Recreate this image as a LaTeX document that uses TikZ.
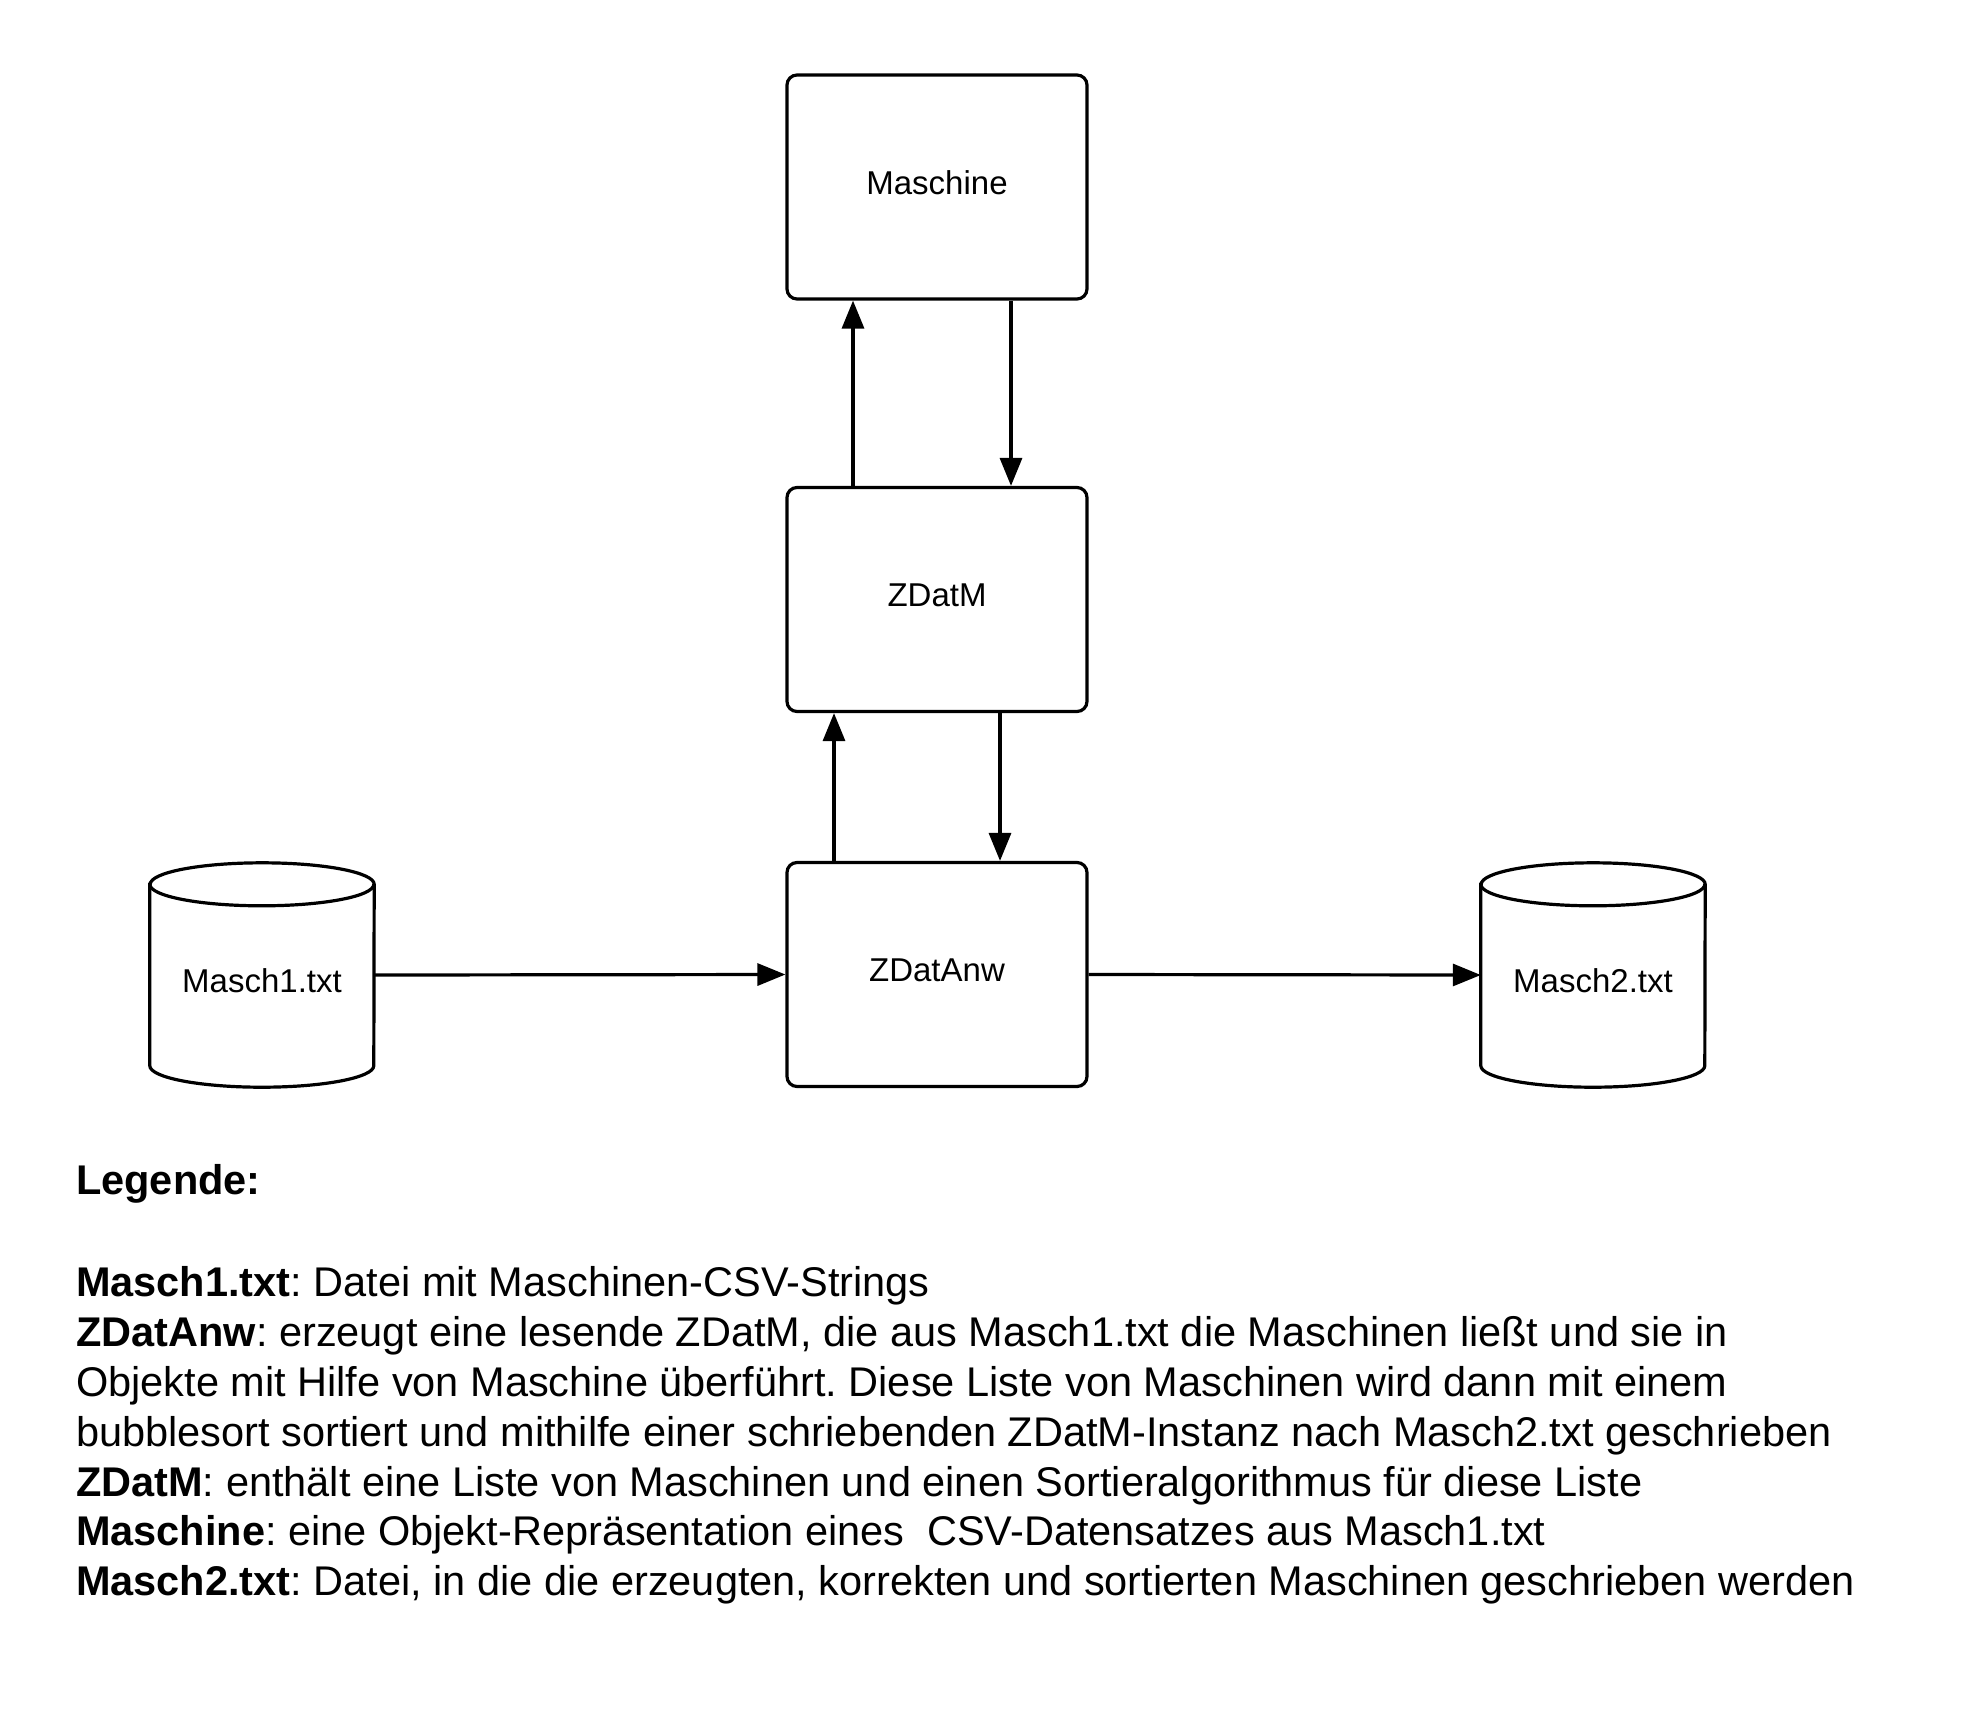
\documentclass[tikz,border=0pt]{standalone}
\usepackage{fontspec}
\setmainfont{Liberation Sans}
\usetikzlibrary{arrows.meta}
\frenchspacing
\begin{document}
\begin{tikzpicture}[x=1pt,y=-1pt,
  box/.style={draw,line width=3.2pt,rounded corners=10pt,minimum width=300pt,minimum height=224pt,inner sep=0pt,font=\fontsize{33}{40}\selectfont},
  dbnode/.style={minimum width=224pt,minimum height=224pt,inner sep=0pt},
  dblabel/.style={inner sep=0pt,font=\fontsize{33}{40}\selectfont},
  conn/.style={line width=3.2pt,-{Triangle[length=28pt,width=22pt]}},
  leg/.style={anchor=base west,inner sep=0pt,font=\fontsize{41.5}{50}\selectfont}]
\useasboundingbox (0,0) rectangle (1988,1727);
% boxes
\node[box] (masch) at (937,187) {};
\node[dblabel] (maschL) at (937,183) {Maschine};
\node[box] (zdatm) at (937,599.5) {};
\node[dblabel] (zdatmL) at (937,595) {ZDatM};
\node[box] (zdatanw) at (937,974.5) {};
\node[dblabel] (zdatanwL) at (937,970) {ZDatAnw};
% cylinders
\node[dbnode] (m1) at (262,975) {};
\node[dbnode] (m2) at (1593,975) {};
\foreach \c in {m1,m2}{
  \draw[line width=3.2pt,fill=white]
    ([yshift=-21.5pt]\c.north west) -- ([yshift=21.5pt]\c.south west)
    arc[start angle=180,end angle=360,x radius=112pt,y radius=21.5pt]
    -- ([yshift=-21.5pt]\c.north east)
    arc[start angle=0,end angle=180,x radius=112pt,y radius=21.5pt] -- cycle;
  \draw[line width=3.2pt] ([yshift=-21.5pt]\c.north west)
    arc[start angle=180,end angle=360,x radius=112pt,y radius=21.5pt];
}
\node[dblabel] (m1L) at (262,981) {Masch1.txt};
\node[dblabel] (m2L) at (1593,981) {Masch2.txt};
% connectors
\draw[conn] ([xshift=-84pt]zdatm.north) -- ([xshift=-84pt]masch.south);
\draw[conn] ([xshift=74pt]masch.south) -- ([xshift=74pt]zdatm.north);
\draw[conn] ([xshift=-103pt]zdatanw.north) -- ([xshift=-103pt]zdatm.south);
\draw[conn] ([xshift=63pt]zdatm.south) -- ([xshift=63pt]zdatanw.north);
\draw[conn] (m1.east) -- (zdatanw.west);
\draw[conn] (zdatanw.east) -- (m2.west);
% legend
\node[leg] (l0) at (76,1194) {\bfseries Legende:};
\node[leg] (l1) at (76,1296) {\textbf{Masch1.txt}: Datei mit Maschinen-CSV-Strings};
\node[leg] (l2) at (76,1346) {\textbf{ZDatAnw}: erzeugt eine lesende ZDatM, die aus Masch1.txt die Maschinen lie\ss t und sie in};
\node[leg] (l3) at (76,1396) {Objekte mit Hilfe von Maschine überführt. Diese Liste von Maschinen wird dann mit einem};
\node[leg] (l4) at (76,1446) {bubblesort sortiert und mithilfe einer schriebenden ZDatM-Instanz nach Masch2.txt geschrieben};
\node[leg] (l5) at (76,1496) {\textbf{ZDatM}: enthält eine Liste von Maschinen und einen Sortieralgorithmus für diese Liste};
\node[leg] (l6) at (76,1545) {\textbf{Maschine}: eine Objekt-Repräsentation eines\ \ CSV-Datensatzes aus Masch1.txt};
\node[leg] (l7) at (76,1595) {\textbf{Masch2.txt}: Datei, in die die erzeugten, korrekten und sortierten Maschinen geschrieben werden};
\end{tikzpicture}
\end{document}
